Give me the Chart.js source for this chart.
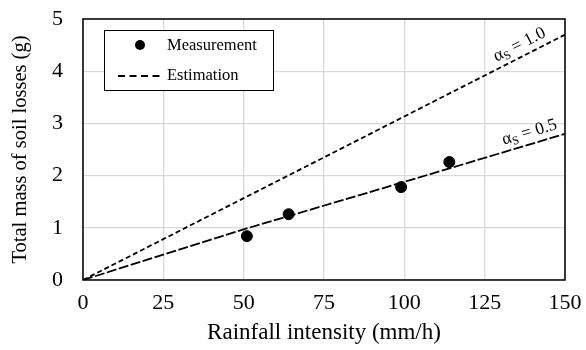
<!DOCTYPE html>
<html><head><meta charset="utf-8">
<script src="https://cdn.jsdelivr.net/npm/chart.js@4"></script>
<style>html,body{margin:0;padding:0;background:#fff}#wrap{width:586px;height:350px}</style>
</head><body><div id="wrap"><canvas id="c" width="586" height="350"></canvas></div>
<script>
const intensity = [51, 64, 99, 114];
const soilLoss = [0.84, 1.26, 1.78, 2.26];
const estX10 = [0, 150];
const estAlpha10 = [0, 4.7];
const estX05 = [0, 50, 100, 150];
const estAlpha05 = [0, 0.97, 1.88, 2.8];
const xTicks = [0, 25, 50, 75, 100, 125, 150];
const yTicks = [0, 1, 2, 3, 4, 5];
const FONT = "'Liberation Serif', 'Times New Roman', serif";

const pts = (xs, ys) => xs.map((x, i) => ({x, y: ys[i]}));

const framePlugin = {
  id: 'frame',
  afterDraw(chart) {
    const {ctx, chartArea: a, scales} = chart;
    ctx.save();
    ctx.strokeStyle = '#000'; ctx.lineWidth = 1.5;
    ctx.strokeRect(a.left, a.top, a.right - a.left, a.bottom - a.top);
    // legend
    const lx = a.left + 21, ly = a.top + 11, lw = 169, lh = 60;
    ctx.fillStyle = '#fff';
    ctx.fillRect(lx, ly, lw, lh);
    ctx.lineWidth = 1; ctx.strokeStyle = '#000';
    ctx.strokeRect(lx + 0.5, ly + 0.5, lw, lh);
    ctx.fillStyle = '#000';
    ctx.beginPath(); ctx.arc(lx + 36, ly + 15, 5, 0, Math.PI * 2); ctx.fill();
    ctx.setLineDash([7, 4.5]); ctx.lineWidth = 1.8;
    ctx.beginPath(); ctx.moveTo(lx + 14, ly + 46); ctx.lineTo(lx + 59, ly + 46); ctx.stroke();
    ctx.setLineDash([]);
    ctx.font = '16.5px ' + FONT; ctx.textBaseline = 'middle'; ctx.textAlign = 'left';
    ctx.fillText('Measurement', lx + 63, ly + 16);
    ctx.fillText('Estimation', lx + 63, ly + 46);
    // line annotations
    const xs = scales.x, ys = scales.y;
    const labels = [
      {xv: estX10, ys: estAlpha10, at: 137.5, text: '1.0'},
      {xv: estX05, ys: estAlpha05, at: 140, text: '0.5'}
    ];
    labels.forEach(l => {
      const n = l.xv.length - 1;
      const x0 = xs.getPixelForValue(l.xv[n - 1]), y0 = ys.getPixelForValue(l.ys[n - 1]);
      const x1 = xs.getPixelForValue(l.xv[n]), y1 = ys.getPixelForValue(l.ys[n]);
      const ang = Math.atan2(y1 - y0, x1 - x0);
      const t = (l.at - l.xv[n - 1]) / (l.xv[n] - l.xv[n - 1]);
      const v = l.ys[n - 1] + (l.ys[n] - l.ys[n - 1]) * t;
      const px = xs.getPixelForValue(l.at), py = ys.getPixelForValue(v);
      ctx.save();
      ctx.translate(px, py); ctx.rotate(ang);
      ctx.textBaseline = 'alphabetic';
      const a1 = 'α', rest = ' = ' + l.text;
      ctx.font = '12px ' + FONT; const ws = ctx.measureText('S').width;
      ctx.font = '17.5px ' + FONT;
      const wa = ctx.measureText(a1).width, wr = ctx.measureText(rest).width;
      let sx = -(wa + ws + wr) / 2; const sy = -7;
      ctx.fillText(a1, sx, sy); sx += wa;
      ctx.font = '12px ' + FONT; ctx.fillText('S', sx, sy + 3); sx += ws;
      ctx.font = '17.5px ' + FONT; ctx.fillText(rest, sx, sy);
      ctx.restore();
    });
    ctx.restore();
  }
};

new Chart(document.getElementById('c'), {
  type: 'scatter',
  data: {
    datasets: [
      {label: 'α=1.0', data: pts(estX10, estAlpha10), showLine: true, borderColor: '#000', borderWidth: 1.8, borderDash: [5, 3], pointRadius: 0, fill: false},
      {label: 'α=0.5', data: pts(estX05, estAlpha05), showLine: true, borderColor: '#000', borderWidth: 1.8, borderDash: [10, 2.5], pointRadius: 0, fill: false},
      {label: 'Measurement', data: pts(intensity, soilLoss), pointRadius: 5.5, pointBackgroundColor: '#000', pointBorderColor: '#000', showLine: false}
    ]
  },
  options: {
    responsive: false, animation: false, devicePixelRatio: 1,
    layout: {padding: {left: 0, right: 21, top: 19, bottom: 0}},
    plugins: {legend: {display: false}, tooltip: {enabled: false}},
    scales: {
      x: {
        type: 'linear', min: 0, max: 150,
        afterBuildTicks: s => { s.ticks = xTicks.map(v => ({value: v})); },
        afterFit: s => { s.height = 70; s.paddingLeft = 0; s.paddingRight = 0; },
        grid: {color: '#d9d9d9', lineWidth: 1.3, drawTicks: false},
        border: {display: false},
        ticks: {color: '#000', font: {family: FONT, size: 22}, padding: 10, maxRotation: 0},
        title: {display: true, text: 'Rainfall intensity (mm/h)', color: '#000', font: {family: FONT, size: 23}, padding: {top: 0, bottom: 3}}
      },
      y: {
        type: 'linear', min: 0, max: 5,
        afterBuildTicks: s => { s.ticks = yTicks.map(v => ({value: v})); },
        afterFit: s => { s.width = 83; s.paddingTop = 0; s.paddingBottom = 0; },
        grid: {color: '#d9d9d9', lineWidth: 1.3, drawTicks: false},
        border: {display: false},
        ticks: {color: '#000', font: {family: FONT, size: 22}, padding: 20},
        title: {display: true, text: 'Total mass of soil losses (g)', color: '#000', font: {family: FONT, size: 20.5}, padding: {top: 8, bottom: 0}}
      }
    }
  },
  plugins: [framePlugin]
});
</script></body></html>
